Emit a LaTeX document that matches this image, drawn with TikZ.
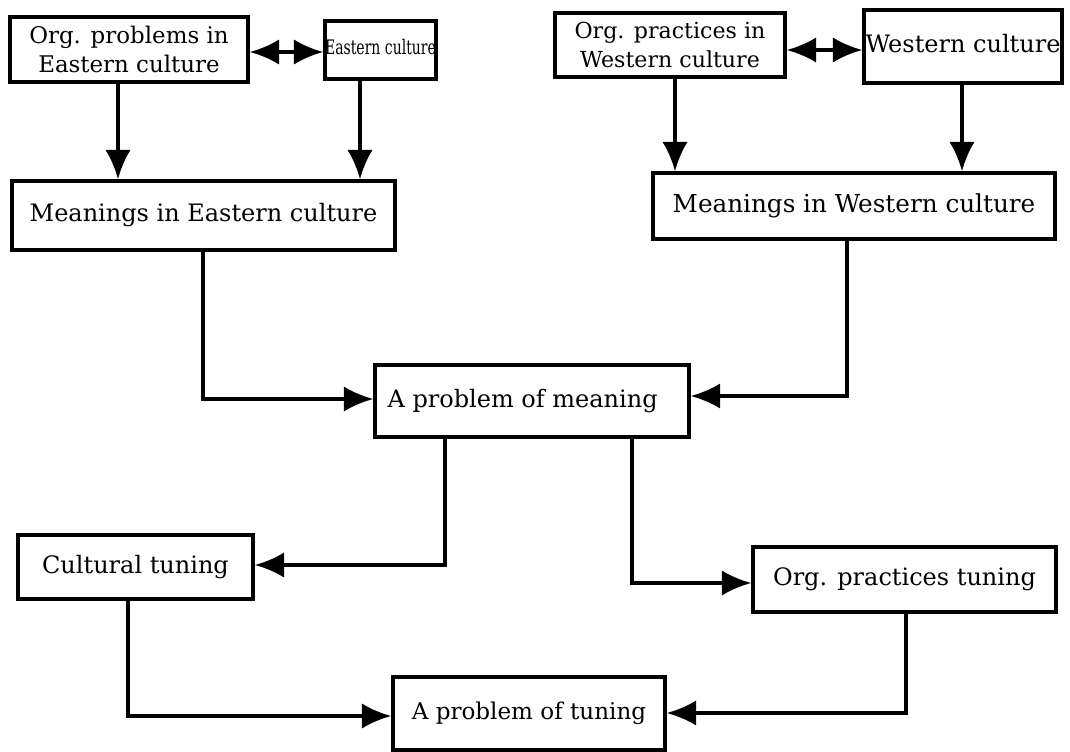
\documentclass[tikz,border=0pt]{standalone}
\usepackage{fontspec}
\setmainfont{DejaVu Serif}
\usetikzlibrary{arrows.meta}
\newcommand{\fsz}[1]{\fontsize{#1}{1.3\dimexpr#1pt\relax}\selectfont}
\begin{document}
\begin{tikzpicture}[x=0.75pt,y=-0.75pt,
  box/.style={draw=black,line width=2.6pt,fill=white,inner sep=0pt,
    align=center,font=\fsz{18}},
  arr/.style={line width=2.6pt,-{Latex[length=22pt,width=19pt]}},
  darr/.style={line width=2.6pt,{Latex[length=22pt,width=19pt]}-{Latex[length=22pt,width=19pt]}}]
\useasboundingbox (0,0) rectangle (1070,752);
% top row
\node[box,font=\fsz{17.2},minimum width=238*0.75pt,minimum height=65*0.75pt] (ope) at (129,49.5) {Org. problems in\\Eastern culture};
\node[box,minimum width=111*0.75pt,minimum height=58*0.75pt] (ec) at (380.5,50) {\raisebox{4pt}{\scalebox{0.7}[1]{\fsz{15}Eastern culture}}};
\node[box,font=\fsz{16.6},minimum width=230*0.75pt,minimum height=64*0.75pt] (opw) at (670,45) {Org. practices in\\Western culture};
\node[box,minimum width=198*0.75pt,minimum height=73*0.75pt] (wc) at (963,46.5) {\raisebox{5pt}{Western culture}};
% meanings
\node[box,minimum width=383*0.75pt,minimum height=69*0.75pt] (me) at (203.5,215.5) {Meanings in Eastern culture};
\node[box,font=\fsz{18.5},minimum width=402*0.75pt,minimum height=66*0.75pt] (mw) at (854,206) {Meanings in Western culture};
% middle
\node[box,minimum width=314*0.75pt,minimum height=72*0.75pt] (pm) at (532,401) {A problem of meaning\hspace*{14pt}};
% tuning
\node[box,minimum width=235*0.75pt,minimum height=64*0.75pt] (ct) at (135.5,567) {Cultural tuning};
\node[box,minimum width=303*0.75pt,minimum height=65*0.75pt] (opt) at (904.5,579.5) {Org. practices tuning};
\node[box,font=\fsz{17.3},minimum width=272*0.75pt,minimum height=73*0.75pt] (pt) at (529,713.5) {A problem of tuning};

% connectors
\draw[darr] (ope.east |- 0,52) -- (ec.west |- 0,52);
\draw[darr] (opw.east |- 0,50) -- (wc.west |- 0,50);
\draw[arr] (ope.south -| 118,0) -- (me.north -| 118,0);
\draw[arr] (ec.south -| 360,0) -- (me.north -| 360,0);
\draw[arr] (opw.south -| 675,0) -- (mw.north -| 675,0);
\draw[arr] (wc.south -| 962,0) -- (mw.north -| 962,0);
\draw[arr] (me.south -| 203,0) |- (pm.west |- 0,399);
\draw[arr] (mw.south -| 847,0) |- (pm.east |- 0,396);
\draw[arr] (pm.south -| 445,0) |- (ct.east |- 0,565);
\draw[arr] (pm.south -| 632,0) |- (opt.west |- 0,583);
\draw[arr] (ct.south -| 128,0) |- (pt.west |- 0,716);
\draw[arr] (opt.south -| 906,0) |- (pt.east |- 0,713);
\end{tikzpicture}
\end{document}
